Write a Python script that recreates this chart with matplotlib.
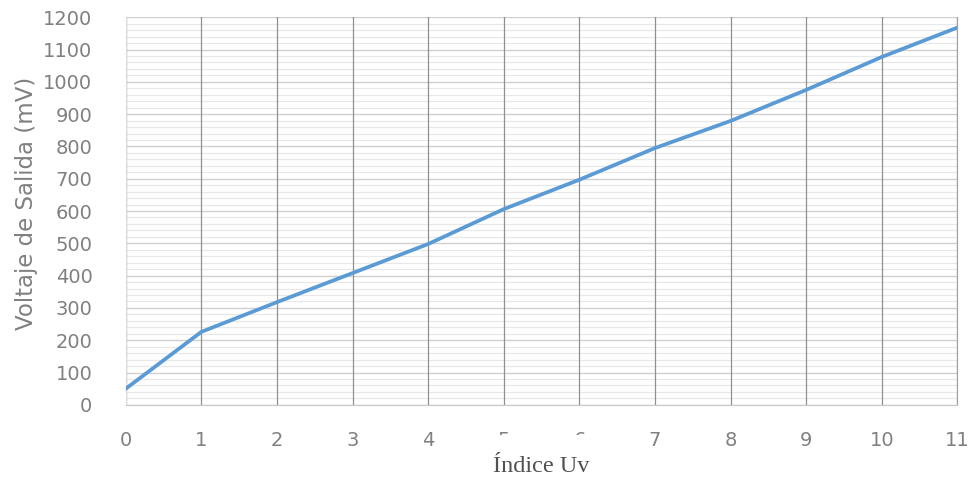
import matplotlib
matplotlib.use('Agg')
import matplotlib.pyplot as plt
from matplotlib.ticker import MultipleLocator

# datos
indice_uv = [0, 1, 2, 3, 4, 5, 6, 7, 8, 9, 10, 11]
voltaje_mv = [50, 226, 318, 408, 498, 606, 697, 795, 879, 975, 1077, 1168]

fig = plt.figure(figsize=(9.75, 4.78), dpi=100)
ax = fig.add_axes([0.129, 0.153, 0.853, 0.811])

ax.plot(indice_uv, voltaje_mv, color='#5b9bd5', linewidth=2.7, zorder=5)

ax.set_xlim(0, 11)
ax.set_ylim(0, 1200)
ax.xaxis.set_major_locator(MultipleLocator(1))
ax.yaxis.set_major_locator(MultipleLocator(100))
ax.yaxis.set_minor_locator(MultipleLocator(20))

# rejilla tipo excel
ax.grid(axis='y', which='major', color='#d0d0d0', linewidth=1.0)
ax.grid(axis='y', which='minor', color='#e8e8e8', linewidth=0.9)
ax.grid(axis='x', which='major', color='#909090', linewidth=0.9)
ax.set_axisbelow(True)
ax.xaxis.set_zorder(0.7)  # lineas verticales encima de las horizontales

ax.spines['top'].set_visible(False)
ax.spines['left'].set_color('#dcdcdc')
ax.spines['bottom'].set_color('#c8c8c8')
ax.spines['right'].set_color('#a0a0a0')

ax.tick_params(axis='both', which='both', length=0, colors='#808080', labelsize=14)
ax.tick_params(axis='y', pad=24)
ax.tick_params(axis='x', pad=19)

ax.set_ylabel('Voltaje de Salida (mV)', color='#808080', fontsize=16.5)
ax.yaxis.set_label_coords(-0.106, 0.52)
# el recuadro blanco del titulo tapa parte de los numeros 5 y 6 como en el original
ax.set_xlabel('Índice Uv', family='Liberation Serif', fontsize=17.5, color='#505050',
              labelpad=4, bbox=dict(boxstyle='square,pad=0.85', facecolor='white', edgecolor='none'))

plt.savefig('out.png', dpi=100)
